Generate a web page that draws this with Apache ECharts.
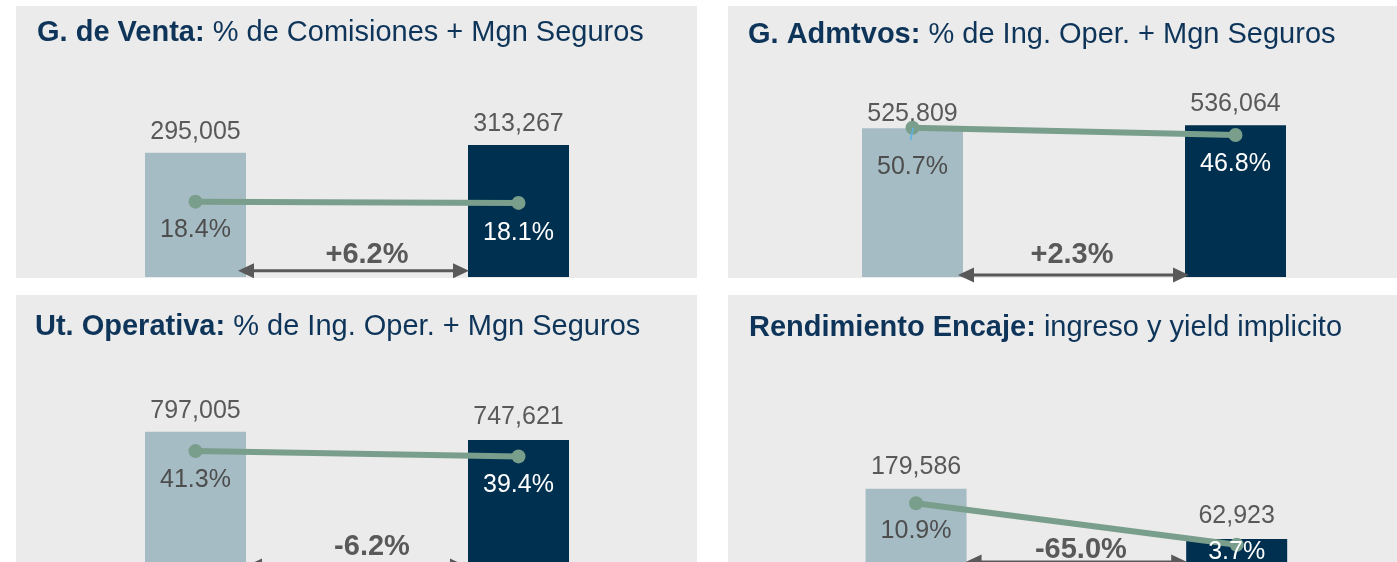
<!DOCTYPE html>
<html>
<head>
<meta charset="utf-8">
<script src="https://cdn.jsdelivr.net/npm/echarts@6/dist/echarts.min.js"></script>
<style>
  html, body { margin: 0; padding: 0; background: #ffffff; overflow: hidden; }
  #chart { width: 1397px; height: 600px; }
</style>
</head>
<body>
<div id="chart"></div>
<script>
// Periods compared in every panel (not shown as axis labels)
const periodos = ['P1', 'P2'];

// Panel titles: bold lead + regular text
const tituloNegrita = ['G. de Venta:', 'G. Admtvos:', 'Ut. Operativa:', 'Rendimiento Encaje:'];
const tituloTexto = ['% de Comisiones + Mgn Seguros', '% de Ing. Oper. + Mgn Seguros',
                     '% de Ing. Oper. + Mgn Seguros', 'ingreso y yield implicito'];

// Amounts (bars) and ratios in % (line)
const ventaMonto = [295005, 313267];
const ventaPct = [18.4, 18.1];
const admtvosMonto = [525809, 536064];
const admtvosPct = [50.7, 46.8];
const utOperMonto = [797005, 747621];
const utOperPct = [41.3, 39.4];
const encajeMonto = [179586, 62923];
const encajePct = [10.9, 3.7];

// Period-over-period change shown between the bars
const variacion = ['+6.2%', '+2.3%', '-6.2%', '-65.0%'];

const FONT = '"Liberation Sans", Arial, Helvetica, sans-serif';
const LIGHT = '#a6bcc4';
const DARK = '#00304f';
const GREEN = '#7a9e8c';
const GREY = '#595959';
const NAVY = '#0e3559';
const PANEL = '#ebebeb';

// Layout of the four panels
const panels = [
  { bold: tituloNegrita[0], rest: tituloTexto[0], monto: ventaMonto, pct: ventaPct, delta: variacion[0],
    bg: [16, 6, 681, 272], grid: { left: 34, top: 60, width: 646, height: 217 }, titlePos: [37, 16],
    amtMax: 515000, pctRange: [0, 53], valGap: [8.5, 8.5], pctGap: [9, 10.5],
    deltaPos: [10, 22], arrow: { dy: 6.3, l: -8, r: 1 } },
  { bold: tituloNegrita[1], rest: tituloTexto[1], monto: admtvosMonto, pct: admtvosPct, delta: variacion[1],
    bg: [728, 6, 669, 272], grid: { left: 751, top: 60, width: 646, height: 217 }, titlePos: [748, 18],
    amtMax: 767000, pctRange: [-29.06, 86.9], valGap: [2, 9], pctGap: [19.5, 9.3],
    deltaPos: [-2, 22.5], arrow: { dy: 2, l: -5, r: 4 }, leader: true },
  { bold: tituloNegrita[2], rest: tituloTexto[2], monto: utOperMonto, pct: utOperPct, delta: variacion[2],
    bg: [16, 295, 681, 300], grid: { left: 34, top: 349, width: 646, height: 217 }, titlePos: [35, 310],
    amtMax: 1288000, pctRange: [0, 78], valGap: [8, 10], pctGap: [9.5, 9.7],
    deltaPos: [15, 19], arrow: { dy: 0, l: 0, r: -2 } },
  { bold: tituloNegrita[3], rest: tituloTexto[3], monto: encajeMonto, pct: encajePct, delta: variacion[3],
    bg: [728, 295, 669, 300], grid: { left: 755.75, top: 349, width: 645, height: 217 }, titlePos: [749, 311.3],
    amtMax: 505000, pctRange: [0, 37.7], valGap: [9.5, 10.5], pctGap: [8, -12],
    deltaPos: [4.5, 16], arrow: { dy: 4, l: -1, r: 1 } }
];

const BAR_W = 101;
const chart = echarts.init(document.getElementById('chart'));

const option = {
  animation: false,
  title: panels.map(p => ({
    text: '{b|' + p.bold + '} ' + p.rest,
    left: p.titlePos[0], top: p.titlePos[1], padding: 0,
    textStyle: {
      fontFamily: FONT, fontSize: 29, fontWeight: 'normal', color: NAVY, lineHeight: 34,
      rich: { b: { fontFamily: FONT, fontSize: 29, fontWeight: 'bold', color: NAVY, lineHeight: 34 } }
    }
  })),
  grid: panels.map(p => Object.assign({ containLabel: false }, p.grid)),
  xAxis: panels.map((p, i) => ({ type: 'category', gridIndex: i, data: periodos, show: false })),
  yAxis: panels.flatMap((p, i) => [
    { type: 'value', gridIndex: i, min: 0, max: p.amtMax, show: false },
    { type: 'value', gridIndex: i, min: p.pctRange[0], max: p.pctRange[1], show: false }
  ]),
  series: panels.flatMap((p, i) => [
    {
      type: 'bar', xAxisIndex: i, yAxisIndex: 2 * i, barWidth: BAR_W, z: 2,
      data: p.monto.map((v, k) => ({
        value: v,
        itemStyle: { color: k ? DARK : LIGHT },
        label: { distance: p.valGap[k] }
      })),
      label: {
        show: true, position: 'top', fontFamily: FONT, fontSize: 25, lineHeight: 25, color: GREY,
        formatter: d => d.value.toLocaleString('en-US')
      }
    },
    {
      type: 'line', xAxisIndex: i, yAxisIndex: 2 * i + 1, z: 5,
      symbol: 'circle', symbolSize: 14,
      lineStyle: { width: 6, color: GREEN }, itemStyle: { color: GREEN },
      data: p.pct.map((v, k) => ({
        value: v,
        label: { distance: p.pctGap[k], color: k ? '#ffffff' : '#4d4d4d' }
      })),
      label: {
        show: true, position: 'bottom', fontFamily: FONT, fontSize: 25, lineHeight: 25,
        formatter: d => d.value.toFixed(1) + '%'
      }
    }
  ])
};
chart.setOption(option);

// Panel backgrounds, change arrows and change labels, placed from the axes' pixel scale
const g = [];
const HL = 16, HH = 7.5;
panels.forEach((p, i) => {
  g.push({ type: 'rect', silent: true, z: -10,
    shape: { x: p.bg[0], y: p.bg[1], width: p.bg[2], height: p.bg[3] }, style: { fill: PANEL } });
  const c0 = chart.convertToPixel({ xAxisIndex: i }, periodos[0]);
  const c1 = chart.convertToPixel({ xAxisIndex: i }, periodos[1]);
  const bottom = chart.convertToPixel({ yAxisIndex: 2 * i }, 0);
  const xL = c0 + BAR_W / 2 + p.arrow.l;
  const xR = c1 - BAR_W / 2 + p.arrow.r;
  const y = bottom - p.arrow.dy;
  g.push({ type: 'line', silent: true, z: 50,
    shape: { x1: xL + HL - 1, y1: y, x2: xR - HL + 1, y2: y }, style: { stroke: GREY, lineWidth: 3 } });
  g.push({ type: 'polygon', silent: true, z: 50,
    shape: { points: [[xL, y], [xL + HL, y - HH], [xL + HL, y + HH]] }, style: { fill: GREY } });
  g.push({ type: 'polygon', silent: true, z: 50,
    shape: { points: [[xR, y], [xR - HL, y - HH], [xR - HL, y + HH]] }, style: { fill: GREY } });
  g.push({ type: 'text', silent: true, z: 50,
    x: (c0 + c1) / 2 + p.deltaPos[0], y: bottom - p.deltaPos[1],
    style: { text: p.delta, fontFamily: FONT, fontSize: 29, fontWeight: 'bold', fill: GREY,
      align: 'center', verticalAlign: 'middle', textAlign: 'center', textVerticalAlign: 'middle' } });
  if (p.leader) {
    const pt = chart.convertToPixel({ seriesIndex: 2 * i + 1 }, [0, p.pct[0]]);
    g.push({ type: 'line', silent: true, z: 60,
      shape: { x1: pt[0] + 0.5, y1: pt[1], x2: pt[0] - 2, y2: pt[1] + 12.5 },
      style: { stroke: '#5ab4e6', lineWidth: 1.5 } });
  }
});
chart.setOption({ graphic: { elements: g } });
</script>
</body>
</html>
